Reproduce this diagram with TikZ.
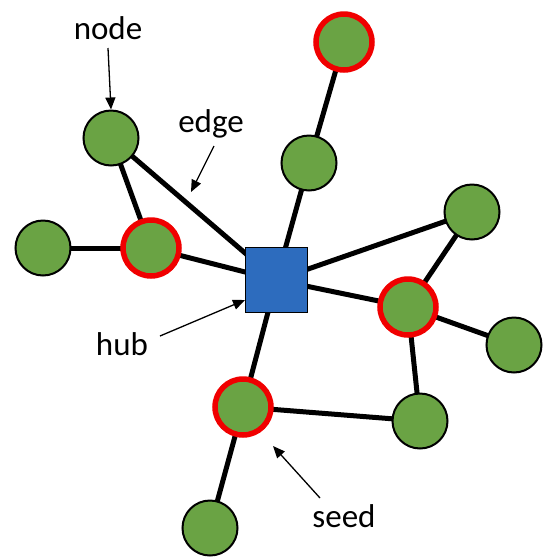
\documentclass[tikz,border=0pt]{standalone}
\usepackage{fontspec}
\setmainfont{Carlito}
\usetikzlibrary{arrows.meta,backgrounds}
\definecolor{ngreen}{HTML}{6AA344}
\definecolor{nblue}{HTML}{2D6CBE}
\definecolor{nred}{HTML}{F00000}
\tikzset{
  plain/.style={circle,fill=ngreen,draw=black,line width=2pt,minimum size=55pt,inner sep=0pt},
  seednode/.style={circle,fill=ngreen,draw=nred,line width=5.5pt,minimum size=56pt,inner sep=0pt},
  hubnode/.style={rectangle,fill=nblue,draw=black,line width=1pt,minimum width=62pt,minimum height=65pt,inner sep=0pt},
  link/.style={line width=5pt,black},
  lbl/.style={font=\fontsize{33}{38}\selectfont,inner sep=0pt},
  pointer/.style={line width=1.3pt,-{Triangle[length=12pt,width=10pt]}}
}
\begin{document}
\begin{tikzpicture}[x=1pt,y=-1pt]
\useasboundingbox (0,0) rectangle (542,558);
% nodes
\node[hubnode] (hub) at (276.5,280) {};
\node[plain] (n1) at (111,138) {};
\node[plain] (nl) at (43,248) {};
\node[seednode] (sl) at (151,248) {};
\node[seednode] (st) at (344,42) {};
\node[plain] (n2) at (309,163) {};
\node[plain] (nrt) at (472,212) {};
\node[seednode] (sr) at (408,307) {};
\node[plain] (nr) at (514,345) {};
\node[plain] (n4) at (420,421) {};
\node[seednode] (sb) at (243,407) {};
\node[plain] (nb) at (210,528) {};
% edges
\begin{scope}[on background layer]
\draw[link] (n1.center) -- (hub.center);
\draw[link] (n1.center) -- (sl.center);
\draw[link] (nl.center) -- (sl.center);
\draw[link] (sl.center) -- (hub.center);
\draw[link] (st.center) -- (n2.center);
\draw[link] (n2.center) -- (hub.center);
\draw[link] (hub.center) -- (nrt.center);
\draw[link] (hub.center) -- (sr.center);
\draw[link] (nrt.center) -- (sr.center);
\draw[link] (sr.center) -- (nr.center);
\draw[link] (sr.center) -- (n4.center);
\draw[link] (n4.center) -- (sb.center);
\draw[link] (hub.center) -- (sb.center);
\draw[link] (sb.center) -- (nb.center);
\end{scope}
% labels
\node[lbl] (tnode) at (108,28) {node};
\node[lbl] (tedge) at (211,124) {edge};
\node[lbl] (thub) at (122,344) {hub};
\node[lbl] (tseed) at (344,516) {seed};
\coordinate (anode) at (108,48);
\coordinate (aedge) at (214,146);
\coordinate (ahub) at (160,336);
\coordinate (aseed) at (320,498);
\draw[pointer] (anode) -- (n1.north);
\draw[pointer] (aedge) -- (191,192);
\draw[pointer] (ahub) -- (hub.south west |- 0,300);
\draw[pointer] (aseed) -- (273,446);
\end{tikzpicture}
\end{document}
